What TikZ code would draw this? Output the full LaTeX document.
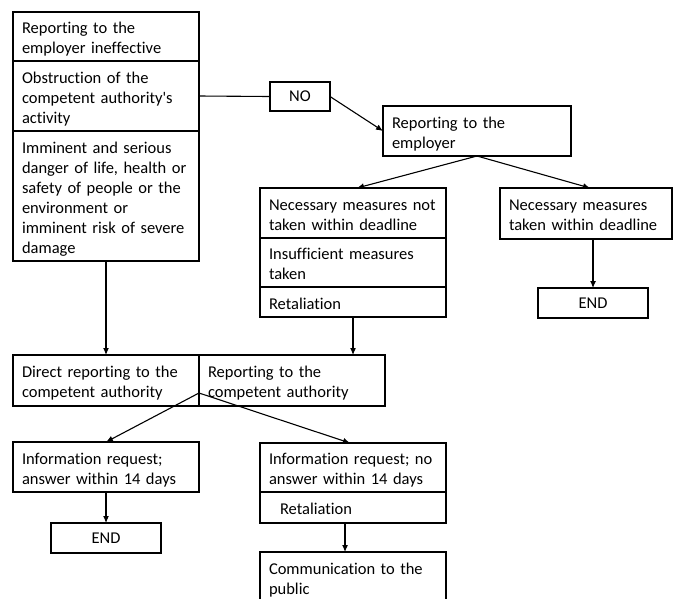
\documentclass[tikz,border=0pt]{standalone}
\usepackage{fontspec}
\setmainfont{Carlito}[Ligatures={NoCommon,TeXOff}]
\usetikzlibrary{arrows.meta}
\begin{document}
\begin{tikzpicture}[x=1pt,y=-1pt,
  every node/.style={font=\fontsize{16.5}{20}\selectfont, text=black},
  box/.style={draw, line width=1.2pt, anchor=north west, outer sep=0pt, inner xsep=9pt, inner ysep=0pt, align=left,
    execute at begin node={\rule{0pt}{20pt}}, execute at end node=\strut},
  cbox/.style={draw, line width=1.2pt, anchor=north west, outer sep=0pt, inner sep=0pt, align=center},
  conn/.style={line width=1.1pt},
  arr/.style={line width=1.1pt, -{Latex[length=7pt,width=6pt]}}]
\useasboundingbox (0,0) rectangle (676,598);
\clip (0,0) rectangle (676,598);
% left stacked box
\node[box, minimum width=186pt, text width=168pt, minimum height=49pt] (A1) at (13,12) {Reporting to the\\employer ineffective};
\node[box, minimum width=186pt, text width=168pt, minimum height=70pt] (A2) at (13,61) {Obstruction of the\\competent authority's\\activity};
\node[box, minimum width=186pt, text width=168pt, minimum height=130pt] (A3) at (13,131) {Imminent and serious\\danger of life, health or\\safety of people or the\\environment or\\imminent risk of severe\\damage};
% NO and employer
\node[cbox, minimum width=60pt, minimum height=29pt] (NO) at (270,82) {NO};
\node[box, minimum width=188pt, text width=170pt, minimum height=50pt] (EMP) at (383,106) {Reporting to the\\employer};
% middle stack
\node[box, minimum width=186pt, text width=168pt, minimum height=50pt] (B1) at (260,188) {Necessary measures not\\taken within deadline};
\node[box, minimum width=186pt, text width=168pt, minimum height=49pt] (B2) at (260,238) {Insufficient measures\\taken};
\node[box, minimum width=186pt, text width=168pt, minimum height=30pt] (B3) at (260,287) {Retaliation};
% right
\node[box, minimum width=172pt, text width=154pt, minimum height=51pt] (C) at (500,188) {Necessary measures\\taken within deadline};
\node[cbox, minimum width=110pt, minimum height=30pt] (END1) at (538,288) {END};
% authority row
\node[box, minimum width=186pt, text width=168pt, minimum height=51pt] (D1) at (13,355) {Direct reporting to the\\competent authority};
\node[box, minimum width=186pt, text width=168pt, minimum height=51pt] (D2) at (199,355) {Reporting to the\\competent authority};
% bottom
\node[box, minimum width=186pt, text width=168pt, minimum height=50pt] (E1) at (13,442) {Information request;\\answer within 14 days};
\node[cbox, minimum width=110pt, minimum height=30pt] (END2) at (51,523) {END};
\node[box, minimum width=186pt, text width=168pt, minimum height=49pt] (F1) at (260,443) {Information request; no\\answer within 14 days};
\node[box, minimum width=186pt, inner xsep=20pt, text width=146pt, minimum height=31pt] (F2) at (260,492) {Retaliation};
\node[box, minimum width=186pt, text width=168pt, minimum height=50pt] (G) at (260,552) {Communication to the\\public};
% connectors
\draw[conn] (A2.east) -- (NO.west);
\draw[arr] (NO.east) -- (EMP.west);
\draw[arr] (EMP.south) -- ([xshift=4pt]B1.north);
\draw[arr] (EMP.south) -- ([xshift=4pt]C.north);
\draw[arr] (END1.north |- C.south) -- (END1.north);
\draw[arr] (A3.south) -- (D1.north);
\draw[arr] (B3.south) -- (B3.south |- D2.north);
\coordinate (split) at ([yshift=13pt]D1.south east);
\draw[conn] (D1.south east) -- (split);
\draw[arr] (split) -- (E1.north);
\draw[arr] (split) -- ([xshift=-3pt]F1.north);
\draw[arr] (E1.south) -- (END2.north);
\draw[arr] ([xshift=-8pt]F2.south) -- ([xshift=-8pt]G.north);
\end{tikzpicture}
\end{document}
